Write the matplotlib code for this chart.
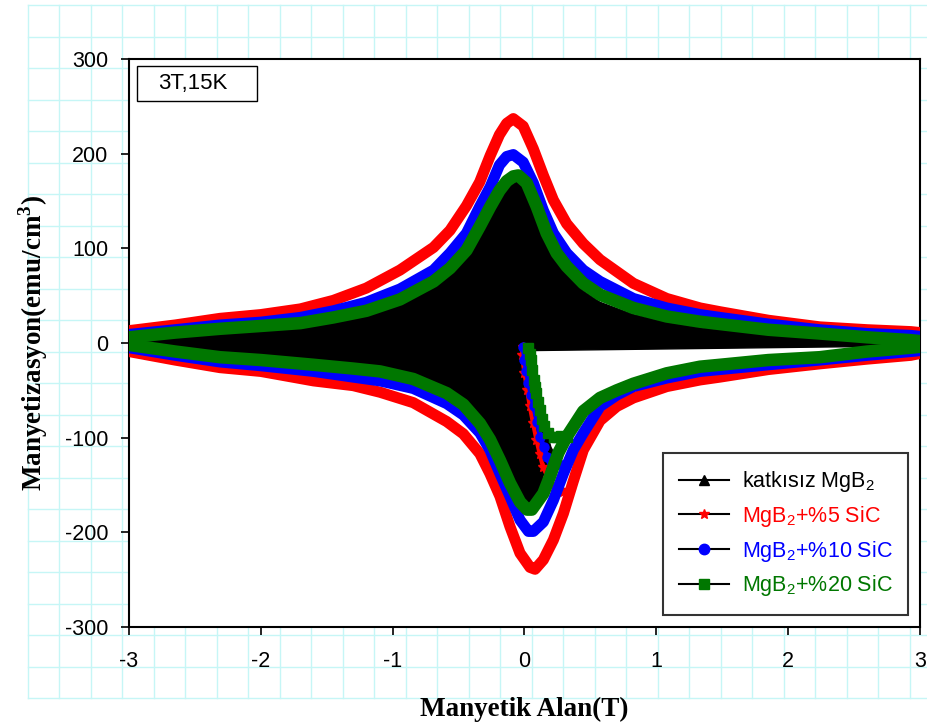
import matplotlib
matplotlib.use("Agg")
import matplotlib.pyplot as plt
from matplotlib.lines import Line2D
from matplotlib.patches import Rectangle
import numpy as np

# ---------------- data ----------------
# katkısız MgB2 (black, drawn as a filled loop)
blk_up_x = [-3.0, -2.65, -2.31, -2.0, -1.70, -1.45, -1.20, -0.945, -0.69, -0.565, -0.44, -0.34, -0.26, -0.19, -0.135, -0.06, 0.017, 0.093, 0.168, 0.244, 0.32, 0.446, 0.573, 0.826, 1.079, 1.332, 1.483, 1.85, 2.24, 2.6, 2.93, 3.0]
blk_up_y = [2, 7, 11, 13, 16, 21, 28, 40, 58, 72, 90, 115, 136, 154, 164, 170, 162, 136, 108, 87, 73, 55, 43, 30, 22, 16, 14, 9, 6, 3, 1, 0]
blk_lo_x = [-3.0, -2.65, -2.31, -2.0, -1.6, -1.3, -1.096, -0.844, -0.59, -0.464, -0.338, -0.262, -0.186, -0.11, -0.034, 0.03, 0.1]
blk_lo_y = [0, -6, -11, -14, -19, -23, -26, -34, -49, -61, -80, -97, -118, -142, -162, -170, -160]
blk_vi_x = [0.05, 0.08, 0.12, 0.16, 0.20, 0.23]
blk_vi_y = [-8, -30, -60, -90, -110, -118]
blk_tail_x = [3.0]
blk_tail_y = [-3]

# MgB2 + %5 SiC (red)
red_up_x = [-3.0, -2.65, -2.31, -2.0, -1.70, -1.45, -1.20, -0.945, -0.69, -0.565, -0.44, -0.34, -0.26, -0.19, -0.135, -0.085, -0.01, 0.067, 0.143, 0.219, 0.32, 0.446, 0.573, 0.826, 1.079, 1.332, 1.483, 1.85, 2.24, 2.6, 2.93, 3.0]
red_up_y = [13, 19, 26, 30, 36, 45, 58, 77, 101, 119, 145, 170, 198, 220, 232, 237, 229, 205, 177, 151, 126, 105, 88, 63, 47, 37, 33, 24, 17, 14, 12, 11]
red_lo_x = [-3.0, -2.65, -2.31, -2.0, -1.6, -1.3, -1.096, -0.844, -0.59, -0.464, -0.338, -0.262, -0.186, -0.11, -0.034, 0.042, 0.08, 0.143, 0.219, 0.295, 0.37, 0.446, 0.573, 0.7, 0.826, 1.079, 1.332, 1.483, 1.85, 2.24, 2.6, 2.93, 3.0]
red_lo_y = [-9, -18, -26, -30, -40, -45, -52, -63, -83, -96, -117, -138, -162, -194, -222, -237, -239, -229, -208, -180, -146, -113, -82, -67, -58, -46, -39, -36, -28, -22, -17, -13, -11]
red_vi_x = [-0.01, -0.02, 0.0, 0.02, 0.04, 0.065, 0.09, 0.115, 0.14, 0.18, 0.22, 0.26, 0.29, 0.33, 0.36]
red_vi_y = [-4, -13, -32, -50, -67, -85, -102, -117, -131, -143, -152, -156, -157, -155, -150]

# MgB2 + %10 SiC (blue)
blu_up_x = [-3.0, -2.65, -2.31, -2.0, -1.70, -1.45, -1.20, -0.945, -0.69, -0.565, -0.44, -0.34, -0.26, -0.19, -0.135, -0.085, -0.01, 0.067, 0.143, 0.219, 0.32, 0.446, 0.573, 0.826, 1.079, 1.332, 1.483, 1.85, 2.24, 2.6, 2.93, 3.0]
blu_up_y = [9, 14, 19, 22, 27, 34, 43, 57, 77, 95, 116, 144, 165, 188, 197, 199, 191, 169, 140, 116, 95, 77, 65, 47, 37, 30, 27, 20, 14, 10, 8, 7]
blu_lo_x = [-3.0, -2.65, -2.31, -2.0, -1.6, -1.3, -1.096, -0.844, -0.59, -0.464, -0.338, -0.262, -0.186, -0.11, -0.034, 0.03, 0.067, 0.143, 0.219, 0.295, 0.37, 0.446, 0.573, 0.7, 0.826, 1.079, 1.332, 1.483, 1.85, 2.24, 2.6, 2.93, 3.0]
blu_lo_y = [-5, -13, -20, -24, -30, -36, -40, -48, -64, -76, -95, -113, -138, -162, -187, -199, -199, -189, -166, -138, -113, -95, -67, -55, -46, -37, -30, -28, -23, -18, -13, -9, -8]
blu_vi_x = [-0.01, 0.0, 0.015, 0.03, 0.05, 0.07, 0.095, 0.12, 0.145, 0.17, 0.2, 0.22, 0.26]
blu_vi_y = [-4, -18, -30, -42, -55, -67, -83, -99, -110, -120, -125, -127, -128]

# MgB2 + %20 SiC (green)
grn_up_x = [-3.0, -2.65, -2.31, -2.0, -1.70, -1.45, -1.20, -0.945, -0.69, -0.565, -0.44, -0.34, -0.26, -0.19, -0.135, -0.085, -0.047, 0.017, 0.093, 0.168, 0.244, 0.32, 0.446, 0.573, 0.826, 1.079, 1.332, 1.483, 1.85, 2.24, 2.6, 2.93, 3.0]
grn_up_y = [6, 11, 15, 18, 21, 27, 34, 46, 65, 79, 98, 123, 144, 161, 171, 176, 177, 169, 144, 116, 95, 81, 63, 51, 37, 28, 22.5, 20, 14, 10, 6, 3, 2]
grn_lo_x = [-3.0, -2.65, -2.31, -2.0, -1.6, -1.3, -1.096, -0.844, -0.59, -0.464, -0.338, -0.262, -0.186, -0.11, -0.034, 0.02, 0.055, 0.143, 0.193, 0.257, 0.32, 0.446, 0.573, 0.7, 0.826, 1.079, 1.332, 1.483, 1.85, 2.24, 2.6, 2.93, 3.0]
grn_lo_y = [-2, -9, -15, -18, -23, -27, -30, -38, -53, -65, -85, -102, -124, -148, -168, -176, -176, -159, -141, -116, -99, -72, -58, -50, -43, -32, -25, -23, -18, -15, -9, -5, -4]
grn_vi_x = [0.03, 0.04, 0.05, 0.06, 0.07, 0.08, 0.09, 0.105, 0.12, 0.135, 0.15, 0.18, 0.22, 0.25, 0.28, 0.32]
grn_vi_y = [-5, -12, -18, -28, -39, -46, -53, -62, -71, -80, -88, -95, -99, -99, -98, -99]

labels = ['katkısız MgB$_2$', 'MgB$_2$+%5 SiC', 'MgB$_2$+%10 SiC', 'MgB$_2$+%20 SiC']
colors = ['black', '#ff0000', '#0000ff', '#007700']
markers = ['^', '*', 'o', 's']
xticks = [-3, -2, -1, 0, 1, 2, 3]
yticks = [-300, -200, -100, 0, 100, 200, 300]
annot = '3T,15K'
xlabel = 'Manyetik Alan(T)'
ylabel = r'Manyetizasyon(emu/cm$^{\mathbf{3}}$)'

# ---------------- figure ----------------
plt.rcParams['font.family'] = ['Liberation Sans', 'DejaVu Sans']
plt.rcParams['axes.unicode_minus'] = False
plt.rcParams['mathtext.fontset'] = 'custom'
plt.rcParams['mathtext.rm'] = 'Liberation Sans'
plt.rcParams['mathtext.bf'] = 'Liberation Serif:bold'

W, H = 928, 726
fig = plt.figure(figsize=(W / 100, H / 100), dpi=100)

# graph-paper background
bg = fig.add_axes([0, 0, 1, 1], zorder=-5)
bg.set_xlim(0, W)
bg.set_ylim(H, 0)
bg.axis('off')
gc = '#c6f6f6'
xs = np.arange(28, W + 1, 31.5)
ys = np.arange(5, 700, 31.5)
for gx in xs:
    bg.plot([gx, gx], [ys[0], ys[-1]], color=gc, lw=1.0)
for gy in ys:
    bg.plot([28, W], [gy, gy], color=gc, lw=1.0)

ax = fig.add_axes([129 / W, 1 - 627 / H, (920 - 129) / W, (627 - 59) / H])
ax.set_facecolor('white')
ax.set_xlim(-3, 3)
ax.set_ylim(-300, 300)

# black (filled) loop
poly_x = blk_up_x[::-1] + blk_lo_x + blk_vi_x[::-1] + blk_tail_x
poly_y = blk_up_y[::-1] + blk_lo_y + blk_vi_y[::-1] + blk_tail_y
ax.fill(poly_x, poly_y, color='black', lw=1, zorder=2)

series = [
    (red_up_x, red_up_y, red_lo_x, red_lo_y, red_vi_x, red_vi_y, colors[1], markers[1], 8.0, 7.5, 3.0),
    (blu_up_x, blu_up_y, blu_lo_x, blu_lo_y, blu_vi_x, blu_vi_y, colors[2], markers[2], 8.0, 6.5, 3.5),
    (grn_up_x, grn_up_y, grn_lo_x, grn_lo_y, grn_vi_x, grn_vi_y, colors[3], markers[3], 9.0, 6.5, 4.5),
]
z = 3
for ux, uy, lx, ly, vx, vy, c, m, lw, ms, vlw in series:
    ax.plot(ux, uy, color=c, lw=lw, solid_capstyle='round', solid_joinstyle='round', zorder=z)
    ax.plot(lx, ly, color=c, lw=lw, solid_capstyle='round', solid_joinstyle='round', zorder=z)
    ax.plot(vx, vy, color=c, lw=vlw, marker=m, ms=ms, mec=c, mfc=c, zorder=z)
    z += 1

ax.set_xticks(xticks)
ax.set_yticks(yticks)
ax.tick_params(direction='out', length=6, width=1.2, labelsize=15.5, colors='black')
ax.tick_params(axis='x', pad=11)
ax.tick_params(axis='y', pad=9)
for s in ax.spines.values():
    s.set_linewidth(1.5)

ax.set_xlabel(xlabel, family='Liberation Serif', fontweight='bold', fontsize=19.5)
ax.xaxis.set_label_coords(0.5, -0.123)
ax.set_ylabel(ylabel, family='Liberation Serif', fontweight='bold', fontsize=19.5)
ax.yaxis.set_label_coords(-0.1, 0.5)

# annotation box
ax.add_patch(Rectangle(((137 - 129) / 791, (627 - 101) / 568), 120 / 791, 35 / 568,
                       transform=ax.transAxes, fc='white', ec='black', lw=1.0, zorder=10))
ax.text((193 - 129) / 791, (627 - 83.5) / 568, annot, transform=ax.transAxes, fontsize=16,
        ha='center', va='center', zorder=11)

handles = [Line2D([0], [0], color='black', lw=1.5, marker=mk, ms=7.5, mfc=c, mec=c)
           for mk, c in zip(markers, colors)]
leg = ax.legend(handles, labels, loc='upper left', bbox_to_anchor=(0.675, 0.306),
                fontsize=15.5, frameon=True, fancybox=False, edgecolor='black',
                handlelength=2.3, handletextpad=0.6, labelspacing=0.45, borderpad=0.75,
                borderaxespad=0, shadow=False)
leg.get_frame().set_linewidth(1.5)
for t, c in zip(leg.get_texts(), colors):
    t.set_color(c)
leg.set_zorder(20)

fig.savefig('out.png', dpi=100)
